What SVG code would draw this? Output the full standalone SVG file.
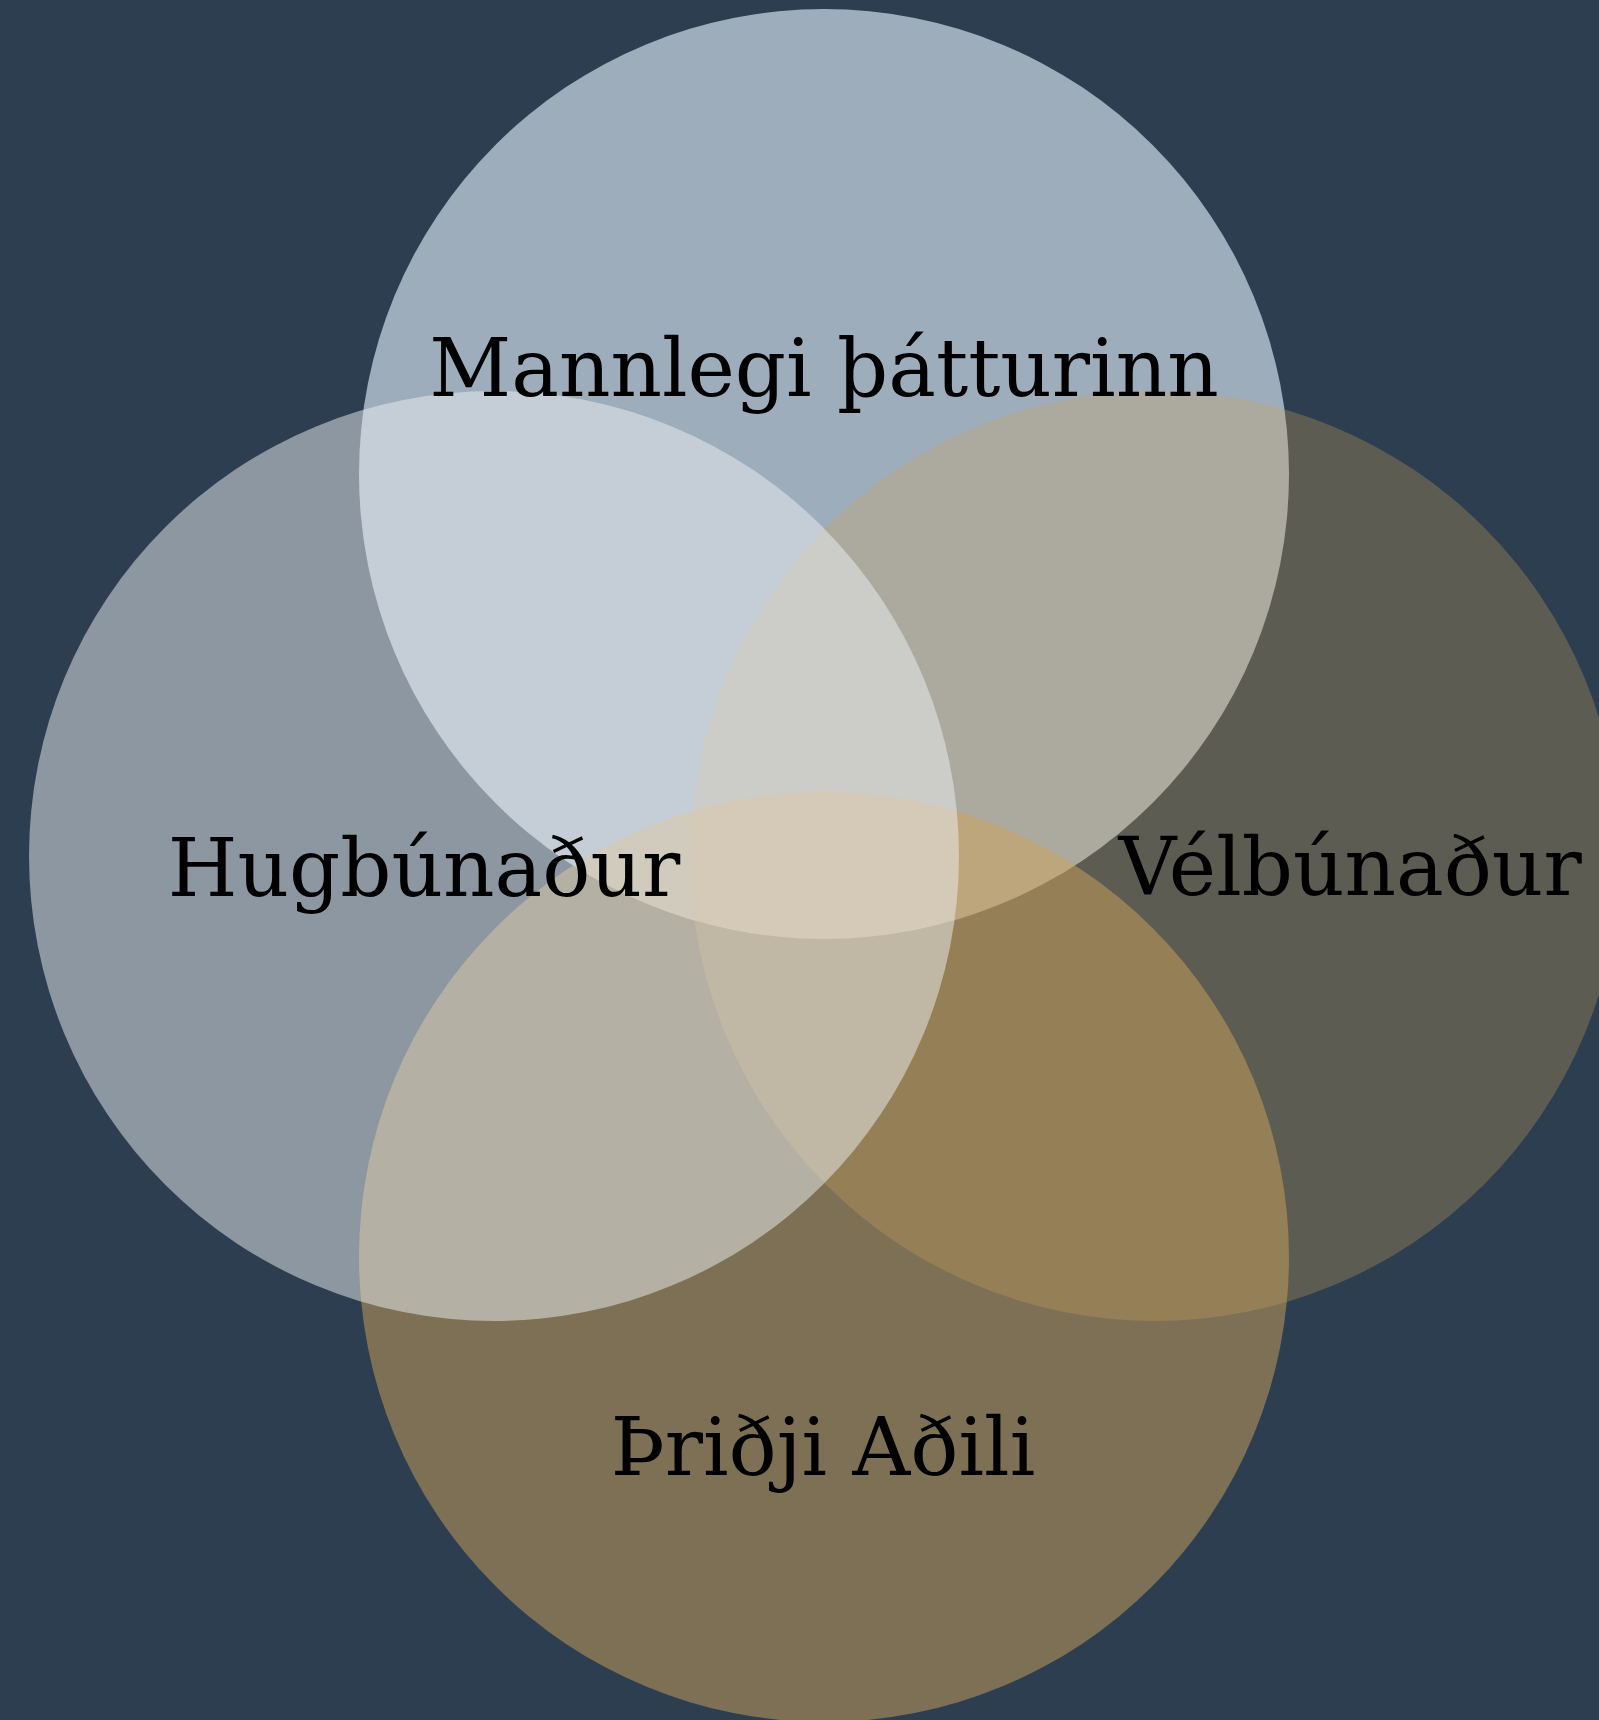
<svg xmlns="http://www.w3.org/2000/svg" width="1599" height="1720" viewBox="0 0 1599 1720">
  <style>
    .bg { fill: #2c3e50; }
    .set { stroke: none; }
    .blue { fill: #cfddea; fill-opacity: 0.7; }
    .cloud { fill: #ecf0f1; fill-opacity: 0.5; }
    .tan-light { fill: #cda259; fill-opacity: 0.3; }
    .tan { fill: #cda259; fill-opacity: 0.5; }
    .label { font-family: "DejaVu Serif", "Liberation Serif", serif; font-size: 80px; fill: #000000; text-anchor: middle; }
  </style>
  <rect class="bg" x="0" y="0" width="1599" height="1720"/>
  <g id="node-mannlegi">
    <circle class="set blue" cx="824" cy="474" r="465"/>
  </g>
  <g id="node-velbunadur">
    <circle class="set tan-light" cx="1155" cy="856" r="465"/>
  </g>
  <g id="node-pridji">
    <circle class="set tan" cx="824" cy="1257" r="465"/>
  </g>
  <g id="node-hugbunadur">
    <circle class="set cloud" cx="494" cy="856" r="465"/>
  </g>
  <g id="connectors"></g>
  <g id="labels">
    <text id="label-mannlegi" class="label" x="824" y="396">Mannlegi þátturinn</text>
    <text id="label-hugbunadur" class="label" x="424" y="896">Hugbúnaður</text>
    <text id="label-velbunadur" class="label" x="1350" y="895">Vélbúnaður</text>
    <text id="label-pridji" class="label" x="823" y="1475">Þriðji Aðili</text>
  </g>
</svg>
